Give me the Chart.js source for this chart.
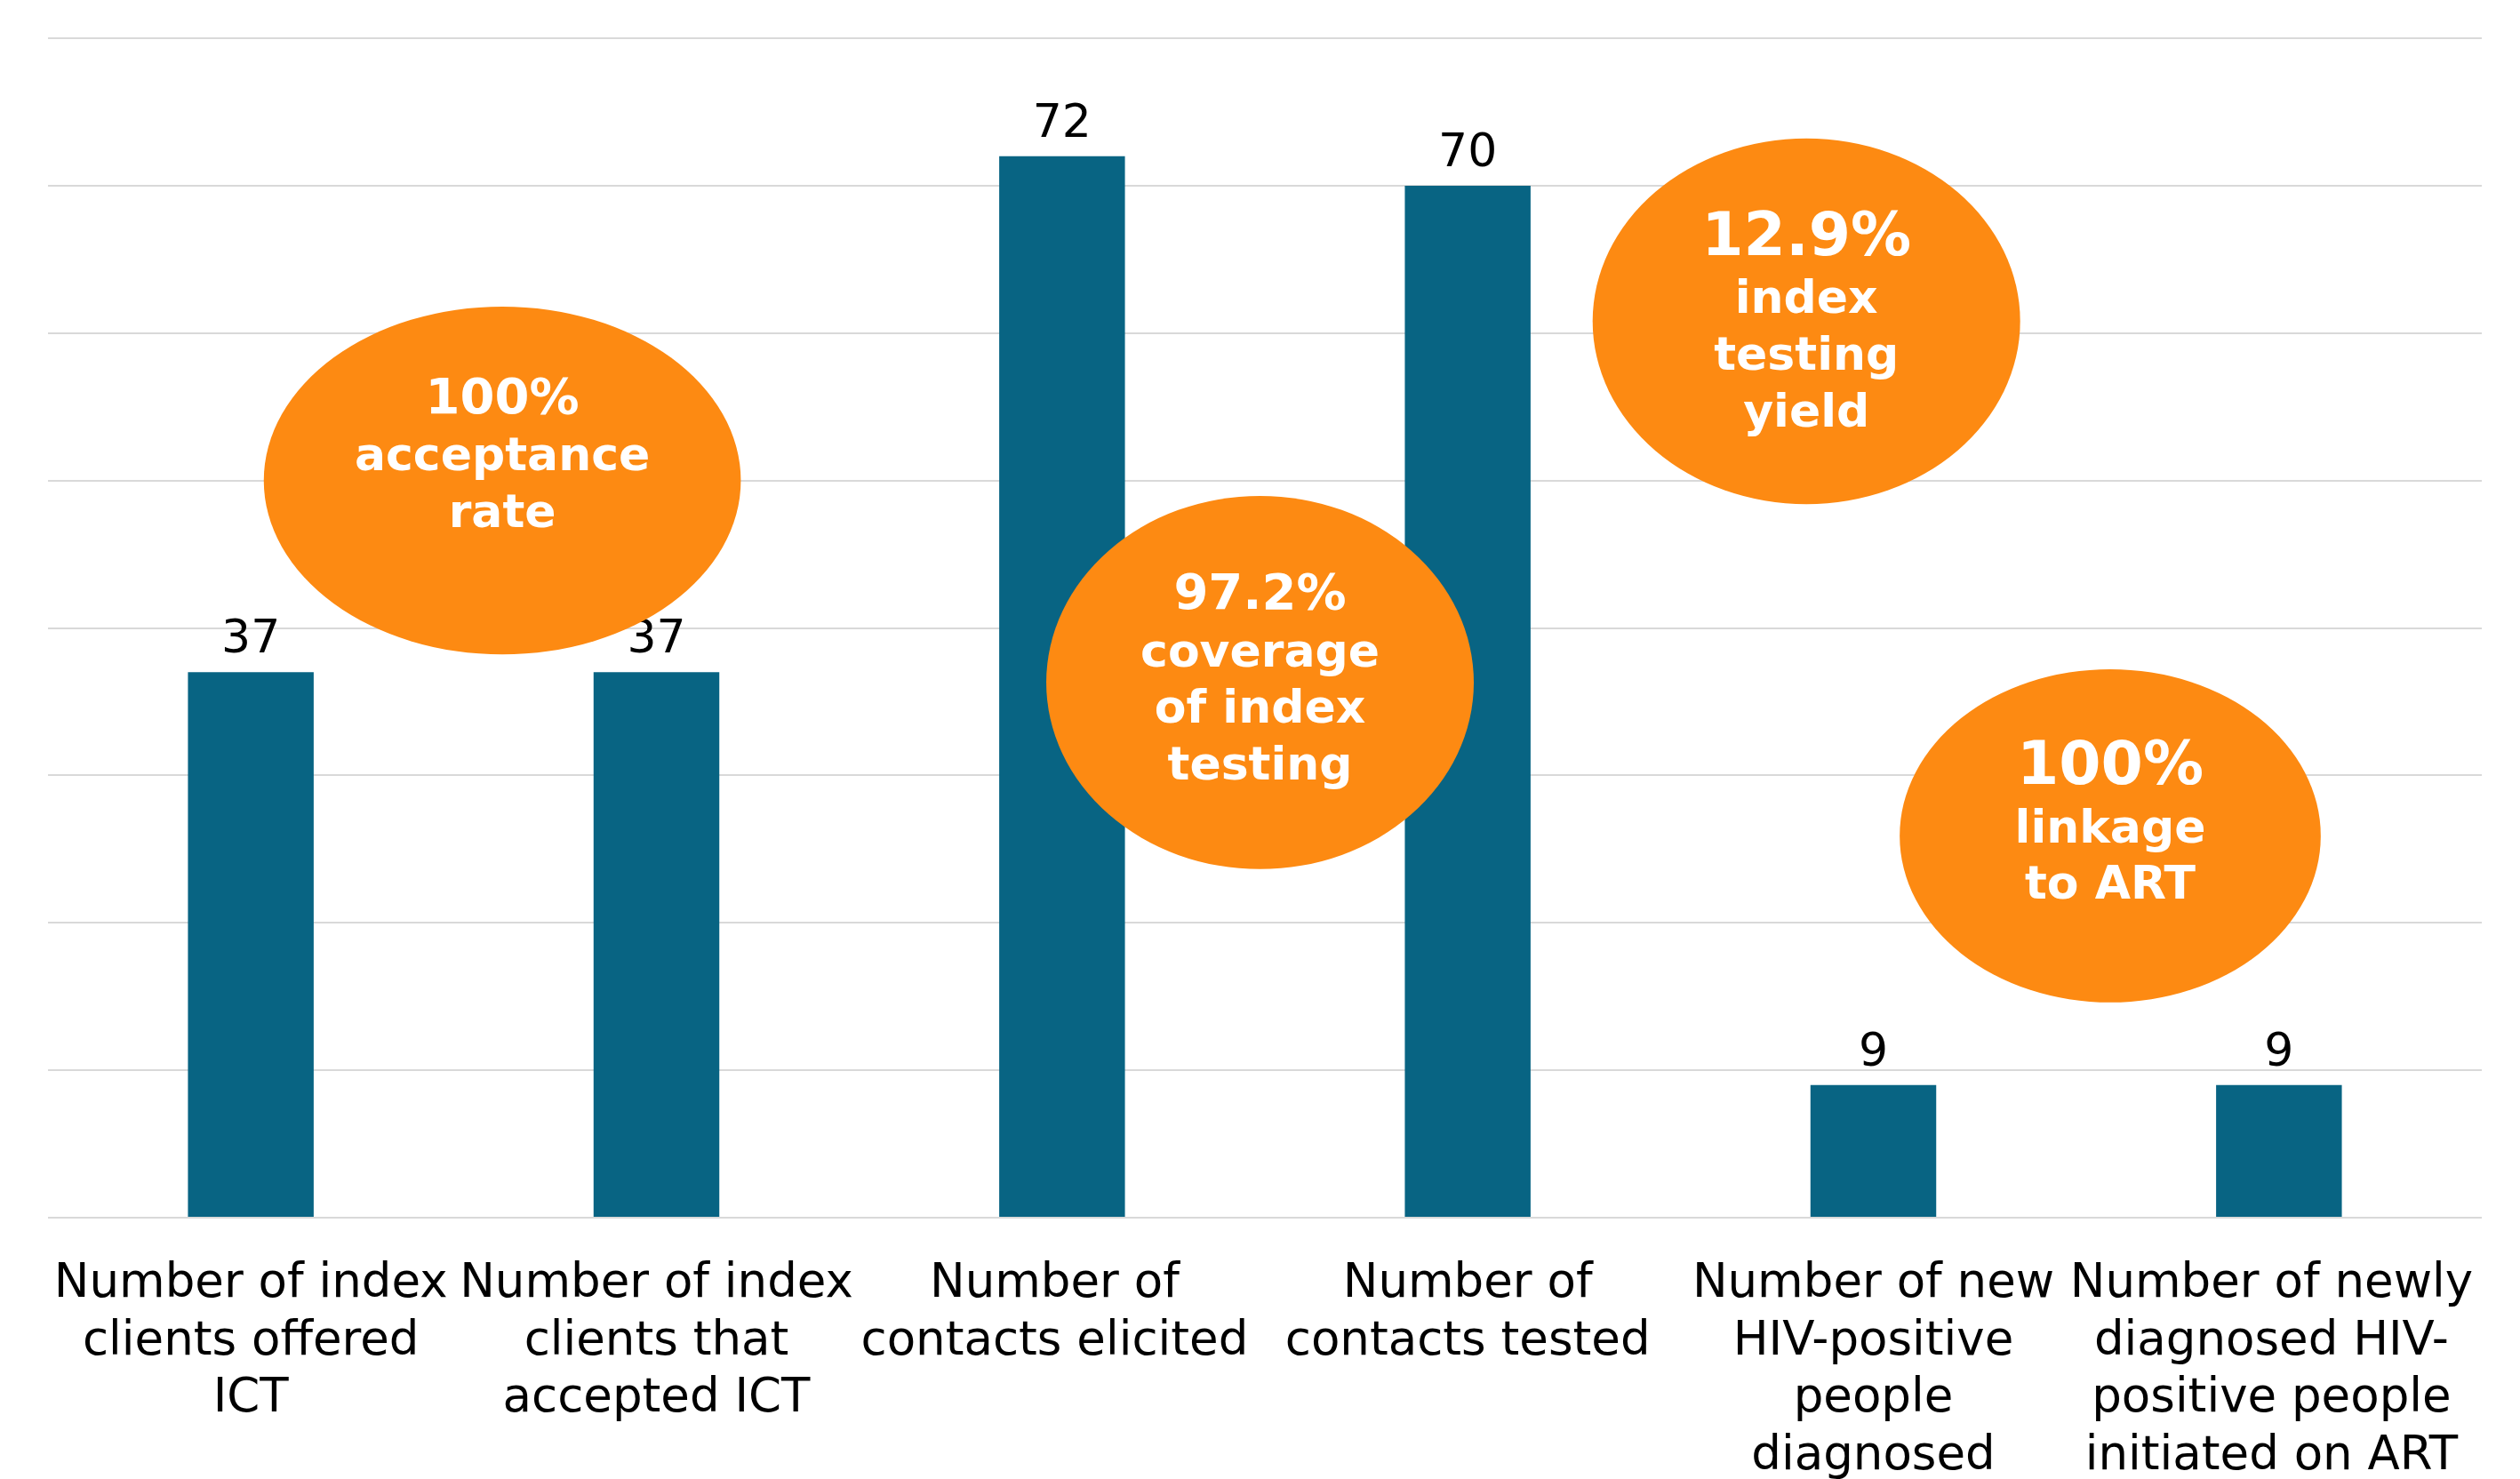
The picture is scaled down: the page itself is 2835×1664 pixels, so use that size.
<!DOCTYPE html>
<html>
<head>
<meta charset="utf-8">
<script src="https://cdn.jsdelivr.net/npm/chart.js@4"></script>
<style>
  html, body { margin: 0; padding: 0; background: #fff; }
  #chart { display: block; }
</style>
</head>
<body>
<canvas id="chart" width="2835" height="1664"></canvas>
<script>
// trailing spaces on some labels are kept as in the source, they nudge the text left
const categories = [
  ["Number of index", "clients offered", "ICT"],
  ["Number of index", "clients that", "accepted ICT"],
  ["Number of ", "contacts elicited "],
  ["Number of", "contacts tested"],
  ["Number of new", "HIV-positive", "people", "diagnosed"],
  ["Number of newly ", "diagnosed HIV- ", "positive people ", "initiated on ART "],
];
const counts = [37, 37, 72, 70, 9, 9];
const yTicks = [0, 10, 20, 30, 40, 50, 60, 70, 80];

const calloutText = [
  ["100%", "acceptance", "rate"],
  ["97.2%", "coverage", "of index", "testing"],
  ["12.9%", "index", "testing", "yield"],
  ["100%", "linkage", "to ART"],
];

// ellipse placement in data units (x = category index, y = value), radii too
const calloutShape = [
  { x: 0.62, y: 50.0, rx: 0.588, ry: 11.8, first: 56, dy: [-76, -12, 52] },
  { x: 2.488, y: 36.3, rx: 0.527, ry: 12.66, first: 56, dy: [-83, -18, 45, 109] },
  { x: 3.835, y: 60.8, rx: 0.527, ry: 12.4, first: 68, dy: [-74, -9, 55, 119] },
  { x: 4.584, y: 25.9, rx: 0.519, ry: 11.3, first: 68, dy: [-58, 8, 71] },
];

const FONT = "'DejaVu Sans', Verdana, sans-serif";

const valueLabels = {
  id: "valueLabels",
  afterDatasetsDraw(chart) {
    const ctx = chart.ctx;
    const meta = chart.getDatasetMeta(0);
    ctx.save();
    ctx.font = "52px " + FONT;
    ctx.fillStyle = "#000";
    ctx.textAlign = "center";
    ctx.textBaseline = "alphabetic";
    meta.data.forEach((bar, i) => {
      ctx.fillText(String(counts[i]), bar.x, bar.y - 22);
    });
    ctx.restore();
  },
};

const callouts = {
  id: "callouts",
  afterDraw(chart) {
    const ctx = chart.ctx;
    const xs = chart.scales.x, ys = chart.scales.y;
    ctx.save();
    calloutShape.forEach((c, k) => {
      const cx = xs.getPixelForValue(c.x);
      const cy = ys.getPixelForValue(c.y);
      const rx = xs.getPixelForValue(c.x + c.rx) - cx;
      const ry = ys.getPixelForValue(c.y - c.ry) - cy;
      ctx.beginPath();
      ctx.ellipse(cx, cy, rx, ry, 0, 0, Math.PI * 2);
      ctx.fillStyle = "#fd8a12";
      ctx.fill();
      ctx.fillStyle = "#fff";
      ctx.textAlign = "center";
      ctx.textBaseline = "alphabetic";
      calloutText[k].forEach((line, j) => {
        const size = j === 0 ? c.first : 52;
        ctx.font = "bold " + size + "px " + FONT;
        ctx.fillText(line, cx, cy + c.dy[j]);
      });
    });
    ctx.restore();
  },
};

new Chart(document.getElementById("chart").getContext("2d"), {
  type: "bar",
  data: {
    labels: categories,
    datasets: [
      {
        label: "Count",
        data: counts,
        backgroundColor: "#086483",
        borderWidth: 0,
        categoryPercentage: 1,
        barPercentage: 0.31,
      },
    ],
  },
  options: {
    responsive: false,
    animation: false,
    devicePixelRatio: 1,
    layout: { padding: { left: 54, right: 43, top: 43, bottom: 0 } },
    plugins: { legend: { display: false }, tooltip: { enabled: false } },
    scales: {
      x: {
        grid: { display: false },
        border: { display: false },
        ticks: {
          color: "#000",
          font: { family: FONT, size: 53, lineHeight: 1.22 },
          padding: 35,
          maxRotation: 0,
          autoSkip: false,
        },
        afterFit(axis) {
          axis.height = 294;
          axis.paddingLeft = 0;
          axis.paddingRight = 0;
        },
      },
      y: {
        min: yTicks[0],
        max: yTicks[yTicks.length - 1],
        afterBuildTicks(axis) {
          axis.ticks = yTicks.map((v) => ({ value: v }));
        },
        ticks: { display: false },
        grid: { color: "#d9d9d9", lineWidth: 2, drawTicks: false },
        border: { display: false },
      },
    },
  },
  plugins: [valueLabels, callouts],
});
</script>
</body>
</html>
